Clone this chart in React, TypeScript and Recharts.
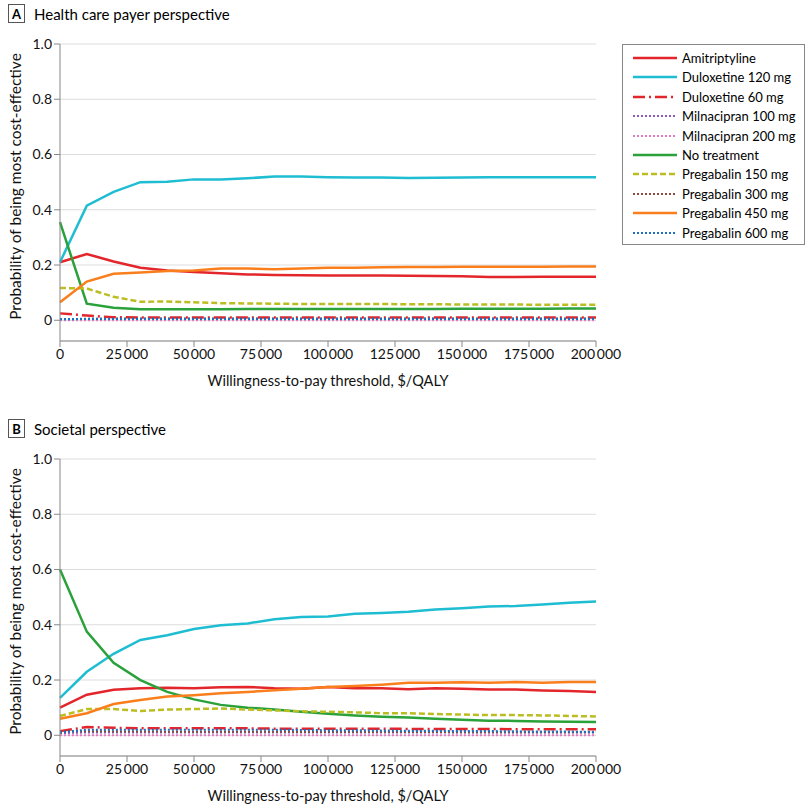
import React from 'react';
import { LineChart, Line, XAxis, YAxis, CartesianGrid } from 'recharts';

// willingness-to-pay thresholds, $/QALY
const thresholds = [
  0, 10000, 20000, 30000, 40000, 50000, 60000, 70000, 80000, 90000, 100000,
  110000, 120000, 130000, 140000, 150000, 160000, 170000, 180000, 190000, 200000,
];

const xTicks = [0, 25000, 50000, 75000, 100000, 125000, 150000, 175000, 200000];
const yTicks = [0, 0.2, 0.4, 0.6, 0.8, 1.0];

// Panel A: health care payer perspective
const payerAmitriptyline = [0.21, 0.24, 0.213, 0.19, 0.18, 0.175, 0.17, 0.166, 0.164, 0.163, 0.162, 0.162, 0.162, 0.161, 0.16, 0.159, 0.157, 0.157, 0.158, 0.158, 0.158];
const payerDuloxetine120 = [0.21, 0.415, 0.465, 0.5, 0.501, 0.51, 0.51, 0.514, 0.52, 0.52, 0.518, 0.517, 0.517, 0.515, 0.516, 0.517, 0.518, 0.518, 0.518, 0.518, 0.518];
const payerDuloxetine60 = [0.025, 0.017, 0.011, 0.01, 0.01, 0.01, 0.01, 0.01, 0.01, 0.01, 0.01, 0.01, 0.01, 0.01, 0.01, 0.01, 0.01, 0.01, 0.01, 0.01, 0.01];
const payerMilnacipran100 = [0.005, 0.005, 0.005, 0.005, 0.005, 0.005, 0.005, 0.005, 0.005, 0.005, 0.005, 0.005, 0.005, 0.005, 0.005, 0.005, 0.005, 0.005, 0.005, 0.005, 0.005];
const payerMilnacipran200 = [0, 0, 0, 0, 0, 0, 0, 0, 0, 0, 0, 0, 0, 0, 0, 0, 0, 0, 0, 0, 0];
const payerNoTreatment = [0.355, 0.06, 0.045, 0.04, 0.04, 0.04, 0.04, 0.041, 0.041, 0.041, 0.041, 0.041, 0.041, 0.041, 0.041, 0.042, 0.042, 0.042, 0.042, 0.043, 0.043];
const payerPregabalin150 = [0.117, 0.115, 0.085, 0.067, 0.068, 0.065, 0.062, 0.061, 0.06, 0.059, 0.059, 0.059, 0.059, 0.058, 0.058, 0.057, 0.057, 0.057, 0.056, 0.056, 0.056];
const payerPregabalin300 = [0.005, 0.005, 0.006, 0.006, 0.006, 0.006, 0.006, 0.006, 0.006, 0.006, 0.006, 0.006, 0.006, 0.006, 0.006, 0.006, 0.006, 0.006, 0.006, 0.006, 0.006];
const payerPregabalin450 = [0.065, 0.14, 0.168, 0.173, 0.178, 0.18, 0.187, 0.187, 0.185, 0.187, 0.19, 0.19, 0.192, 0.193, 0.193, 0.194, 0.194, 0.194, 0.194, 0.195, 0.195];
const payerPregabalin600 = [0.004, 0.005, 0.005, 0.005, 0.005, 0.005, 0.005, 0.005, 0.005, 0.005, 0.005, 0.005, 0.005, 0.005, 0.005, 0.005, 0.005, 0.005, 0.005, 0.005, 0.005];

// Panel B: societal perspective
const socAmitriptyline = [0.1, 0.147, 0.165, 0.17, 0.172, 0.17, 0.174, 0.175, 0.17, 0.168, 0.175, 0.17, 0.17, 0.167, 0.17, 0.168, 0.166, 0.166, 0.162, 0.16, 0.157];
const socDuloxetine120 = [0.135, 0.23, 0.295, 0.345, 0.362, 0.385, 0.398, 0.405, 0.42, 0.428, 0.43, 0.44, 0.443, 0.447, 0.455, 0.46, 0.466, 0.468, 0.473, 0.48, 0.484];
const socDuloxetine60 = [0.015, 0.03, 0.027, 0.025, 0.025, 0.025, 0.025, 0.025, 0.024, 0.024, 0.024, 0.024, 0.024, 0.023, 0.023, 0.023, 0.023, 0.022, 0.022, 0.022, 0.022];
const socMilnacipran100 = [0.008, 0.01, 0.01, 0.01, 0.01, 0.01, 0.01, 0.01, 0.01, 0.01, 0.01, 0.01, 0.01, 0.01, 0.01, 0.01, 0.01, 0.01, 0.01, 0.01, 0.01];
const socMilnacipran200 = [0, 0, 0, 0, 0, 0, 0, 0, 0, 0, 0, 0, 0, 0, 0, 0, 0, 0, 0, 0, 0];
const socNoTreatment = [0.6, 0.375, 0.262, 0.2, 0.157, 0.13, 0.11, 0.1, 0.093, 0.085, 0.078, 0.072, 0.067, 0.064, 0.06, 0.056, 0.053, 0.052, 0.05, 0.049, 0.048];
const socPregabalin150 = [0.07, 0.095, 0.095, 0.088, 0.093, 0.095, 0.097, 0.093, 0.09, 0.087, 0.085, 0.083, 0.08, 0.08, 0.077, 0.075, 0.073, 0.073, 0.072, 0.07, 0.068];
const socPregabalin300 = [0.014, 0.015, 0.014, 0.014, 0.013, 0.013, 0.013, 0.013, 0.013, 0.012, 0.012, 0.012, 0.012, 0.012, 0.012, 0.011, 0.011, 0.011, 0.011, 0.011, 0.011];
const socPregabalin450 = [0.06, 0.08, 0.113, 0.128, 0.14, 0.145, 0.152, 0.157, 0.163, 0.168, 0.175, 0.178, 0.183, 0.19, 0.19, 0.192, 0.19, 0.193, 0.19, 0.193, 0.193];
const socPregabalin600 = [0.01, 0.02, 0.02, 0.02, 0.02, 0.02, 0.02, 0.02, 0.02, 0.019, 0.018, 0.018, 0.017, 0.016, 0.016, 0.015, 0.015, 0.014, 0.013, 0.013, 0.012];

const series = [
  { key: 'ami', name: 'Amitriptyline', color: '#e3262b', dash: undefined, width: 2.5 },
  { key: 'dul120', name: 'Duloxetine 120 mg', color: '#1fbdd2', dash: undefined, width: 2.5 },
  { key: 'dul60', name: 'Duloxetine 60 mg', color: '#e3262b', dash: '12 4 2 4', width: 2.5 },
  { key: 'mil100', name: 'Milnacipran 100 mg', color: '#8a5cb8', dash: '2 2', width: 2 },
  { key: 'mil200', name: 'Milnacipran 200 mg', color: '#e57bc3', dash: '2 2', width: 2 },
  { key: 'none', name: 'No treatment', color: '#2aa13a', dash: undefined, width: 2.5 },
  { key: 'pre150', name: 'Pregabalin 150 mg', color: '#bcbd22', dash: '6 3', width: 2.5 },
  { key: 'pre300', name: 'Pregabalin 300 mg', color: '#8c4a3e', dash: '2 2', width: 2 },
  { key: 'pre450', name: 'Pregabalin 450 mg', color: '#fb7e1c', dash: undefined, width: 2.5 },
  { key: 'pre600', name: 'Pregabalin 600 mg', color: '#1f6fc0', dash: '2 2', width: 2.2 },
];

const buildRows = (cols: Record<string, number[]>) =>
  thresholds.map((x, i) => {
    const row: Record<string, number> = { x };
    Object.keys(cols).forEach((k) => (row[k] = cols[k][i]));
    return row;
  });

const payerData = buildRows({
  ami: payerAmitriptyline, dul120: payerDuloxetine120, dul60: payerDuloxetine60,
  mil100: payerMilnacipran100, mil200: payerMilnacipran200, none: payerNoTreatment,
  pre150: payerPregabalin150, pre300: payerPregabalin300, pre450: payerPregabalin450,
  pre600: payerPregabalin600,
});

const societalData = buildRows({
  ami: socAmitriptyline, dul120: socDuloxetine120, dul60: socDuloxetine60,
  mil100: socMilnacipran100, mil200: socMilnacipran200, none: socNoTreatment,
  pre150: socPregabalin150, pre300: socPregabalin300, pre450: socPregabalin450,
  pre600: socPregabalin600,
});

const FONT = 'Lato, "DejaVu Sans", sans-serif';
const formatX = (v: number) =>
  v >= 10000 ? String(v).replace(/(\d)(?=(\d{3})+$)/g, '$1\u2009') : String(v);
const formatY = (v: number) => (v === 0 ? '0' : v.toFixed(1));

// rotated y-axis title, placed from the axis box recharts hands in
const YTitle = (props: any) => {
  const vb = props.viewBox || { x: 0, y: 0, width: 60, height: 300 };
  const cx = 15;
  const cy = vb.y + vb.height / 2 - 6;
  return (
    <text x={cx} y={cy} transform={`rotate(-90, ${cx}, ${cy})`} textAnchor="middle"
      dominantBaseline="central" fill="#111" fontSize={15.5} fontFamily={FONT}>
      Probability of being most cost-effective
    </text>
  );
};

const PanelHeader = ({ letter, title, top }: { letter: string; title: string; top: number }) => (
  <div style={{ position: 'absolute', left: 8, top, display: 'flex', alignItems: 'center', fontFamily: FONT }}>
    <div style={{
      width: 17, height: 19, border: '1px solid #555', boxSizing: 'border-box',
      display: 'flex', alignItems: 'center', justifyContent: 'center',
      fontWeight: 700, fontSize: 13,
    }}>{letter}</div>
    <span style={{ marginLeft: 9, fontSize: 15 }}>{title}</span>
  </div>
);

const Panel = ({ data, top }: { data: Record<string, number>[]; top: number }) => (
  <div style={{ position: 'absolute', left: 0, top }}>
    <LineChart width={640} height={361} data={data} margin={{ top: 14, right: 44, left: 0, bottom: 0 }}>
      <CartesianGrid horizontal vertical={false} stroke="#dddddd" strokeWidth={1.2} />
      <XAxis
        dataKey="x" type="number" domain={[0, 200000]} ticks={xTicks} tickFormatter={formatX}
        axisLine={{ stroke: '#888' }} tickLine={{ stroke: '#888' }} tickSize={6} height={50}
        tick={{ fill: '#111', fontSize: 14, fontFamily: FONT }}
        label={{ value: 'Willingness-to-pay threshold, $/QALY', position: 'insideBottom', offset: 5, fill: '#111', fontSize: 14.5, fontFamily: FONT }}
      />
      <YAxis
        type="number" domain={[-0.075, 1]} ticks={yTicks} tickFormatter={formatY} width={60}
        axisLine={{ stroke: '#888' }} tickLine={{ stroke: '#888' }} tickSize={6}
        tick={{ fill: '#111', fontSize: 14, fontFamily: FONT }}
        label={<YTitle />}
      />
      {series.map((s) => (
        <Line
          key={s.key} dataKey={s.key} name={s.name} type="linear" stroke={s.color}
          strokeWidth={s.width} strokeDasharray={s.dash} dot={false} isAnimationActive={false}
        />
      ))}
    </LineChart>
  </div>
);

const LegendBox = () => (
  <div style={{
    position: 'absolute', left: 622, top: 44, width: 183, height: 201,
    border: '1px solid #888', boxSizing: 'border-box', fontFamily: FONT, fontSize: 13,
  }}>
    {series.map((s, i) => (
      <div key={s.key} style={{ position: 'absolute', left: 9, top: 4 + i * 19.4, height: 18, display: 'flex', alignItems: 'center' }}>
        <svg width={46} height={6} style={{ marginRight: 4 }}>
          <line x1={1} y1={3} x2={45} y2={3} stroke={s.color} strokeWidth={s.width} strokeDasharray={s.dash} />
        </svg>
        <span>{s.name}</span>
      </div>
    ))}
  </div>
);

export default function App() {
  return (
    <div style={{ position: 'absolute', left: 0, top: 0, width: 810, height: 804, background: '#fff' }}>
      <PanelHeader letter="A" title="Health care payer perspective" top={4} />
      <Panel data={payerData} top={30} />
      <LegendBox />
      <PanelHeader letter="B" title="Societal perspective" top={419} />
      <Panel data={societalData} top={445} />
    </div>
  );
}
